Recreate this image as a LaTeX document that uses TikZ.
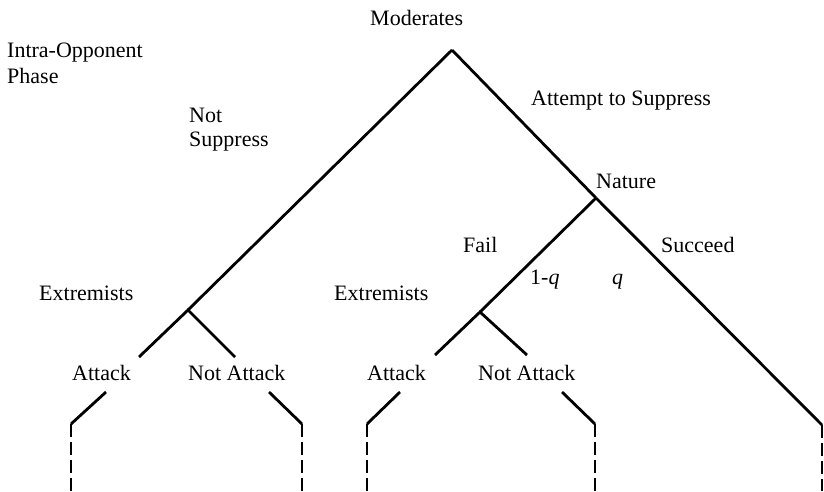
\documentclass[tikz,border=0pt]{standalone}
\usepackage{fontspec}
\setmainfont{Liberation Serif}
\begin{document}
\begin{tikzpicture}[x=1pt,y=-1pt,
  edge/.style={line width=2.8pt,line cap=butt,line join=miter},
  dashedge/.style={line width=2.8pt,dash pattern=on 12.5pt off 5.5pt},
  lbl/.style={inner sep=0pt,anchor=base west,font=\fontsize{22}{26}\selectfont}]
\useasboundingbox (0,0) rectangle (824,491);
% decision points
\coordinate (root) at (452,50);
\coordinate (nature) at (596,198);
\coordinate (ext1) at (188,310);
\coordinate (ext2) at (480,312);
\coordinate (a1) at (139,357);
\coordinate (na1) at (235,357);
\coordinate (a2) at (435,355);
\coordinate (na2) at (527,355);
\coordinate (s1t) at (106,392); \coordinate (s1c) at (71,424); \coordinate (s1b) at (71,491);
\coordinate (s2t) at (269,392); \coordinate (s2c) at (302,424); \coordinate (s2b) at (302,491);
\coordinate (s3t) at (400,392); \coordinate (s3c) at (367,424); \coordinate (s3b) at (367,491);
\coordinate (s4t) at (562,392); \coordinate (s4c) at (595,424); \coordinate (s4b) at (595,491);
\coordinate (s5c) at (822,425); \coordinate (s5b) at (822,491);
% branches
\draw[edge] (root) -- (ext1);
\draw[edge] (root) -- (nature);
\draw[edge] (nature) -- (ext2);
\draw[edge] (nature) -- (s5c);
\draw[edge] (a1) -- (ext1) -- (na1);
\draw[edge] (a2) -- (ext2) -- (na2);
\draw[edge] (s1t) -- (s1c);
\draw[edge] (s2t) -- (s2c);
\draw[edge] (s3t) -- (s3c);
\draw[edge] (s4t) -- (s4c);
\draw[dashedge] (s1c) -- (s1b);
\draw[dashedge] (s2c) -- (s2b);
\draw[dashedge] (s3c) -- (s3b);
\draw[dashedge] (s4c) -- (s4b);
\draw[dashedge] (s5c) -- (s5b);
% labels
\node[lbl] (tmod) at (370,25) {Moderates};
\node[lbl] (tintra) at (7,57) {Intra-Opponent};
\node[lbl] (tphase) at (7,83) {Phase};
\node[lbl] (tnot) at (189,122) {Not};
\node[lbl] (tsupp) at (189,146) {Suppress};
\node[lbl] (tatt) at (531,105) {Attempt to Suppress};
\node[lbl] (tnat) at (596,188) {Nature};
\node[lbl] (tfail) at (463,252) {Fail};
\node[lbl] (tsucc) at (661,252) {Succeed};
\node[lbl] (t1q) at (530,284) {1-\textit{q}};
\node[lbl] (tq) at (612,284) {\textit{q}};
\node[lbl] (text1) at (39,300) {Extremists};
\node[lbl] (text2) at (334,300) {Extremists};
\node[lbl] (tat1) at (72,380) {Attack};
\node[lbl] (tna1) at (188,380) {Not Attack};
\node[lbl] (tat2) at (367,380) {Attack};
\node[lbl] (tna2) at (478,380) {Not Attack};
\end{tikzpicture}
\end{document}
